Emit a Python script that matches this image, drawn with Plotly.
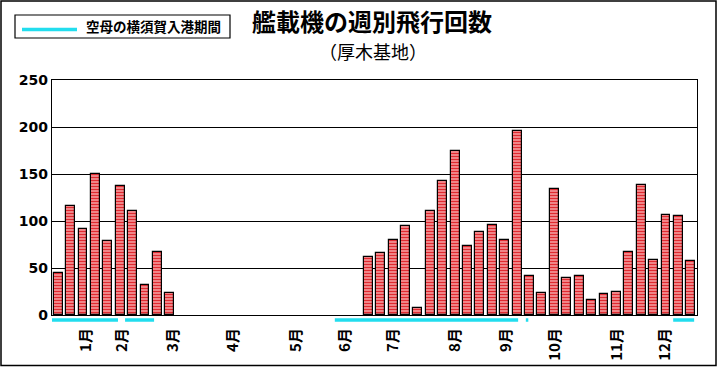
import plotly.graph_objects as go

# ---- data ----
weeks = list(range(52))
flights = [45, 116, 91, 150, 79, 137, 111, 32, 67, 23,
           None, None, None, None, None, None, None, None, None, None,
           None, None, None, None, None,
           62, 66, 80, 95, 7, 111, 143, 175, 73, 88, 96, 80, 196, 41, 23,
           134, 39, 42, 16, 22, 25, 67, 138, 59, 106, 105, 57]

month_labels = ["1月", "2月", "3月", "4月", "5月", "6月",
                "7月", "8月", "9月", "10月", "11月", "12月"]
month_pos = [2.24, 5.15, 9.26, 14.1, 19.2, 23.1, 27.0, 32.0, 36.1, 40.1, 45.1, 48.9]

# carrier in Yokosuka port periods (in week units)
port_start = [-0.5, 5.39, 22.3, 37.7, 49.58]
port_end = [4.82, 7.73, 37.08, 37.9, 51.27]

y_ticks = [0, 50, 100, 150, 200, 250]

title_text = "艦載機の週別飛行回数"
subtitle_text = "（厚木基地）"
legend_text = "空母の横須賀入港期間"

# ---- figure ----
W, H = 718, 367
ML, MR, MT, MB = 52, 21, 80, 52
PW, PH = W - ML - MR, H - MT - MB
CYAN = "#22DDEE"


def px_x(p):
    return (p - ML) / PW


def px_y(p):
    return (H - MB - p) / PH


fig = go.Figure()

fig.add_trace(go.Bar(
    x=weeks, y=flights, width=0.72,
    marker=dict(
        color="#F08080",
        line=dict(color="black", width=1.2),
        pattern=dict(shape="-", fgcolor="#E02A30", bgcolor="#FFD0D0",
                     size=3, solidity=0.64, fillmode="replace"),
    ),
    showlegend=False, hoverinfo="x+y",
))

cjk = "Noto Sans CJK JP"

shapes = [
    # outer frame
    dict(type="rect", xref="paper", yref="paper",
         x0=px_x(1), x1=px_x(716), y0=px_y(365.5), y1=px_y(1),
         line=dict(color="black", width=1.5)),
    # legend box
    dict(type="rect", xref="paper", yref="paper",
         x0=px_x(15), x1=px_x(230), y0=px_y(38), y1=px_y(15),
         line=dict(color="black", width=1.2)),
    # legend line sample
    dict(type="line", xref="paper", yref="paper",
         x0=px_x(22), x1=px_x(77), y0=px_y(29.5), y1=px_y(29.5),
         line=dict(color=CYAN, width=3.5)),
]
# carrier-in-port periods, drawn on the week axis just below the x axis
for s, e in zip(port_start, port_end):
    shapes.append(dict(type="line", xref="x", yref="paper",
                       x0=s, x1=e, y0=px_y(320), y1=px_y(320),
                       line=dict(color=CYAN, width=3.5)))

fig.update_layout(
    width=W, height=H,
    margin=dict(l=ML, r=MR, t=MT, b=MB, autoexpand=False),
    paper_bgcolor="white", plot_bgcolor="white",
    bargap=0,
    xaxis=dict(
        range=[-0.5, 51.5], showgrid=False, zeroline=False, automargin=False,
        showline=True, mirror=True, linecolor="black", linewidth=1.2,
        tickmode="array", tickvals=month_pos, ticktext=month_labels,
        tickangle=-90, ticks="", ticklabelstandoff=6,
        tickfont=dict(family=cjk, size=15, color="black", weight="bold"),
    ),
    yaxis=dict(
        range=[0, 250], tickvals=y_ticks, showgrid=True, gridcolor="black",
        gridwidth=1.2, zeroline=False, showline=True, mirror=True,
        linecolor="black", linewidth=1.2, ticks="", automargin=False,
        tickfont=dict(family="DejaVu Sans", size=14, color="black", weight="bold"),
    ),
    shapes=shapes,
    annotations=[
        dict(text=legend_text, xref="paper", yref="paper",
             x=px_x(84), y=px_y(26.5), xanchor="left", yanchor="middle",
             showarrow=False,
             font=dict(family=cjk, size=13.5, color="black", weight="bold")),
        dict(text=title_text, xref="paper", yref="paper",
             x=px_x(372), y=px_y(21), xanchor="center", yanchor="middle",
             showarrow=False,
             font=dict(family=cjk, size=24, color="black", weight="bold")),
        dict(text=subtitle_text, xref="paper", yref="paper",
             x=px_x(373), y=px_y(51), xanchor="center", yanchor="middle",
             showarrow=False,
             font=dict(family=cjk, size=18, color="black")),
    ],
)

fig.write_html("out.html",
               config={"displayModeBar": False},
               post_script="document.body.style.margin='0';"
                           "document.body.style.overflow='hidden';")
